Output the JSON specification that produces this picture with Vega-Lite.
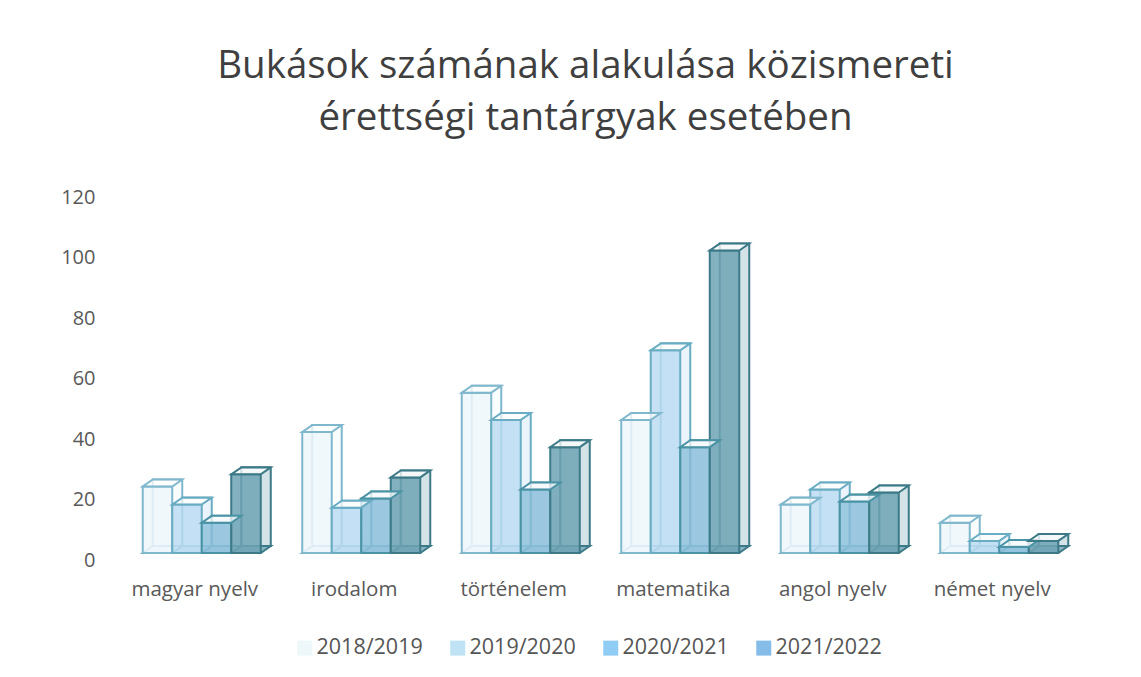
{"$schema":"https://vega.github.io/schema/vega-lite/v6.json","width":957,"height":363,"autosize":{"type":"none"},"padding":{"left":122,"top":190,"right":62,"bottom":124},"background":"white",
"title":{"text":["Bukások számának alakulása közismereti","érettségi tantárgyak esetében"],"font":"Open Sans","fontSize":38.5,"fontWeight":"normal","color":"#3f3f3f","anchor":"middle","dx":-15,"lineHeight":52,"offset":19,"baseline":"alphabetic"},
"data":{"values":[
{"t":"magyar nyelv","y":"2018/2019","v":22},{"t":"magyar nyelv","y":"2019/2020","v":16},{"t":"magyar nyelv","y":"2020/2021","v":10},{"t":"magyar nyelv","y":"2021/2022","v":26},
{"t":"irodalom","y":"2018/2019","v":40},{"t":"irodalom","y":"2019/2020","v":15},{"t":"irodalom","y":"2020/2021","v":18},{"t":"irodalom","y":"2021/2022","v":25},
{"t":"történelem","y":"2018/2019","v":53},{"t":"történelem","y":"2019/2020","v":44},{"t":"történelem","y":"2020/2021","v":21},{"t":"történelem","y":"2021/2022","v":35},
{"t":"matematika","y":"2018/2019","v":44},{"t":"matematika","y":"2019/2020","v":67},{"t":"matematika","y":"2020/2021","v":35},{"t":"matematika","y":"2021/2022","v":100},
{"t":"angol nyelv","y":"2018/2019","v":16},{"t":"angol nyelv","y":"2019/2020","v":21},{"t":"angol nyelv","y":"2020/2021","v":17},{"t":"angol nyelv","y":"2021/2022","v":20},
{"t":"német nyelv","y":"2018/2019","v":10},{"t":"német nyelv","y":"2019/2020","v":4},{"t":"német nyelv","y":"2020/2021","v":2},{"t":"német nyelv","y":"2021/2022","v":4}]},
"encoding":{
"x":{"field":"t","type":"nominal","sort":null,"scale":{"paddingInner":0,"paddingOuter":0},"axis":{"title":null,"labelAngle":0,"labelFont":"Open Sans","labelFontSize":20.5,"labelColor":"#595959","labelPadding":26,"labelOffset":-7,"ticks":false,"domain":false,"grid":false}},
"stroke":{"field":"y","type":"nominal","legend":null,"scale":{"range":["#7fb7cc","#6aadc3","#4a93a5","#3d7a87"]}},
"color":{"field":"y","type":"nominal","legend":null,"scale":{"range":["#eef7fc","#bcdcf2","#8fc1dc","#6ea3b4"]}}},
"layer":[
{"mark":{"type":"bar","strokeWidth":2,"fillOpacity":0.3},"encoding":{
"xOffset":{"field":"y","type":"nominal","sort":null,"scale":{"type":"band","paddingInner":0,"paddingOuter":0.703,"range":[10,169.5]}},
"y":{"field":"v","type":"quantitative","stack":null,"scale":{"domain":[0,120],"range":[356,-7]},"axis":null}}},
{"mark":{"type":"point","shape":"M-1,0L1,0L1.68,-.47L-.32,-.47Z","size":870,"strokeWidth":2,"filled":false,"fillOpacity":0.8,"opacity":1},"encoding":{
"xOffset":{"field":"y","type":"nominal","sort":null,"scale":{"type":"band","paddingInner":0,"paddingOuter":0.703,"range":[0,159.5]}},
"fill":{"field":"y","type":"nominal","legend":null,"scale":{"range":["#eef7fc","#bcdcf2","#8fc1dc","#6ea3b4"]}},
"color":null,
"y":{"datum":0,"type":"quantitative","scale":{"domain":[0,120]},"axis":null}}},
{"mark":{"type":"bar","strokeWidth":2,"fillOpacity":0.85},"encoding":{
"xOffset":{"field":"y","type":"nominal","sort":null,"scale":{"type":"band","paddingInner":0,"paddingOuter":0.703,"range":[0,159.5]}},
"y":{"field":"v","type":"quantitative","stack":null,"scale":{"domain":[0,120]},"axis":{"title":null,"values":[0,20,40,60,80,100,120],"labelFont":"Open Sans","labelFontSize":20,"labelColor":"#595959","labelPadding":27,"labelOffset":7,"ticks":false,"domain":false,"grid":false}}}},
{"mark":{"type":"point","shape":"M-1,0L1,0L1.68,-.47L-.32,-.47Z","size":870,"strokeWidth":2,"fill":"white","fillOpacity":0.75,"opacity":1},"encoding":{
"xOffset":{"field":"y","type":"nominal","sort":null,"scale":{"type":"band","paddingInner":0,"paddingOuter":0.703,"range":[0,159.5]}},
"color":null,
"y":{"field":"v","type":"quantitative","scale":{"domain":[0,120]},"axis":null}}},
{"mark":{"type":"point","size":0,"filled":true,"opacity":1},"encoding":{
"xOffset":{"field":"y","type":"nominal","sort":null,"scale":{"type":"band","paddingInner":0,"paddingOuter":0.703,"range":[0,159.5]}},
"y":{"field":"v","type":"quantitative","scale":{"domain":[0,120]},"axis":null},"color":null,"stroke":null,
"shape":{"field":"y","type":"nominal","scale":{"range":["square","square","square","square"]},"legend":null},
"fill":{"field":"y","type":"nominal","scale":{"range":["#eef8fb","#bfe3f5","#90cdf5","#85bde8"]},"legend":{"title":null,"orient":"none","legendX":172,"legendY":447,"direction":"horizontal","columns":4,"symbolType":"square","symbolSize":225,"symbolOpacity":1,"symbolStrokeWidth":0,"labelFont":"Open Sans","labelFontSize":21.5,"labelColor":"#555555","columnPadding":24,"labelOffset":1}}}}
],"resolve":{"scale":{"y":"independent","xOffset":"independent","fill":"independent"}},
"config":{"view":{"stroke":null}}}
